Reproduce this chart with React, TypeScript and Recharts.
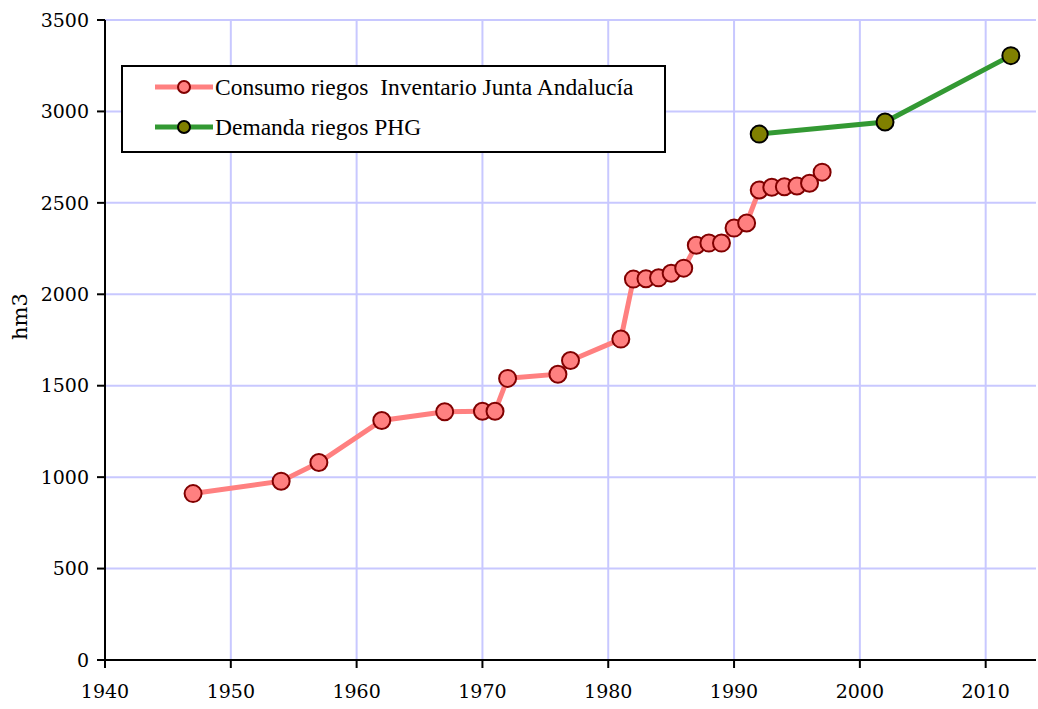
import React from 'react';
import {
  LineChart,
  Line,
  XAxis,
  YAxis,
  CartesianGrid,
} from 'recharts';

// Consumo riegos (Inventario Junta Andalucía)
const consumoYears = [1947, 1954, 1957, 1962, 1967, 1970, 1971, 1972, 1976, 1977, 1981, 1982, 1983, 1984, 1985, 1986, 1987, 1988, 1989, 1990, 1991, 1992, 1993, 1994, 1995, 1996, 1997];
const consumoValues = [910, 978, 1080, 1310, 1358, 1360, 1360, 1540, 1563, 1638, 1755, 2083, 2085, 2090, 2115, 2143, 2268, 2280, 2280, 2362, 2390, 2570, 2585, 2588, 2592, 2607, 2668];

// Demanda riegos PHG
const demandaYears = [1992, 2002, 2012];
const demandaValues = [2876, 2942, 3305];

const xTicks = [1940, 1950, 1960, 1970, 1980, 1990, 2000, 2010];
const yTicks = [0, 500, 1000, 1500, 2000, 2500, 3000, 3500];

const consumoData = consumoYears.map((year, i) => ({ year, value: consumoValues[i] }));
const demandaData = demandaYears.map((year, i) => ({ year, value: demandaValues[i] }));

const FONT = '"DejaVu Serif", serif';
const LEGEND_FONT = '"Liberation Serif", serif';

const legendItems = [
  { label: 'Consumo riegos  Inventario Junta Andalucía', line: '#ff8080', fill: '#ff8080', stroke: '#800000' },
  { label: 'Demanda riegos PHG', line: '#339933', fill: '#808000', stroke: '#000000' },
];

function LegendBox() {
  return (
    <div
      style={{
        position: 'absolute',
        left: 121,
        top: 65,
        border: '2px solid #000',
        background: '#fff',
        width: 545,
        height: 88,
        boxSizing: 'border-box',
      }}
    >
      {legendItems.map((item) => (
        <div key={item.label} style={{ display: 'flex', alignItems: 'center', height: 40 }}>
          <svg width={92} height={20} style={{ flexShrink: 0 }}>
            <line x1={32} y1={10} x2={90} y2={10} stroke={item.line} strokeWidth={5} />
            <circle cx={61} cy={10} r={6} fill={item.fill} stroke={item.stroke} strokeWidth={2} />
          </svg>
          <span style={{ fontFamily: LEGEND_FONT, fontSize: 23.5, color: '#000', whiteSpace: 'pre' }}>
            {item.label}
          </span>
        </div>
      ))}
    </div>
  );
}

export default function App() {
  return (
    <div style={{ position: 'absolute', left: 0, top: 0, background: '#fff', width: 1038, height: 709 }}>
      <LineChart width={1038} height={709} margin={{ top: 20, right: 2, left: 0, bottom: 0 }}>
        <CartesianGrid stroke="#c8c8ff" strokeWidth={2} horizontalValues={yTicks} verticalValues={xTicks} />
        <XAxis
          type="number"
          dataKey="year"
          domain={[1940, 2014]}
          ticks={xTicks}
          allowDataOverflow
          stroke="#000"
          strokeWidth={2}
          tickSize={8}
          tickMargin={17}
          height={49}
          tick={{ fill: '#000', fontFamily: FONT, fontSize: 19 }}
        />
        <YAxis
          type="number"
          domain={[0, 3500]}
          ticks={yTicks}
          stroke="#000"
          strokeWidth={2}
          tickSize={8}
          tickMargin={8}
          width={105}
          tick={{ fill: '#000', fontFamily: FONT, fontSize: 19 }}
          label={{ value: 'hm3', angle: -90, position: 'insideLeft', offset: 20, style: { fill: '#000', fontFamily: FONT, fontSize: 21 } }}
        />
        <Line
          data={consumoData}
          dataKey="value"
          name="Consumo riegos  Inventario Junta Andalucía"
          stroke="#ff8080"
          strokeWidth={5}
          dot={{ r: 8.5, fill: '#ff8080', stroke: '#800000', strokeWidth: 2 }}
          activeDot={false}
          isAnimationActive={false}
        />
        <Line
          data={demandaData}
          dataKey="value"
          name="Demanda riegos PHG"
          stroke="#339933"
          strokeWidth={5}
          dot={{ r: 8.5, fill: '#808000', stroke: '#000000', strokeWidth: 2 }}
          activeDot={false}
          isAnimationActive={false}
        />
      </LineChart>
      <LegendBox />
    </div>
  );
}
